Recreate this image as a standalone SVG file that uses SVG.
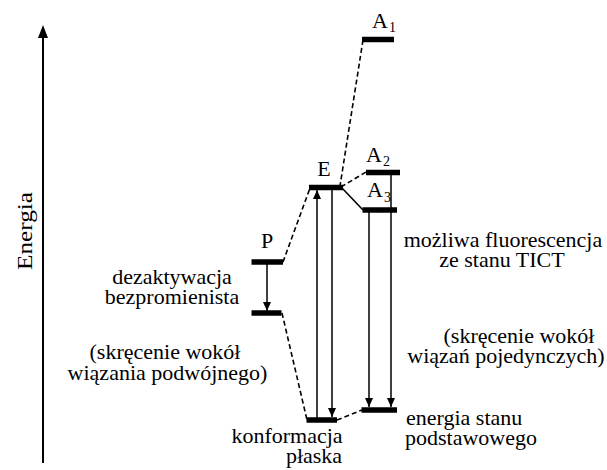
<svg xmlns="http://www.w3.org/2000/svg" width="607" height="470" viewBox="0 0 607 470">
<style>
text{font-family:"Liberation Serif","Times New Roman",serif;fill:#000;font-size:22px}
.c{text-anchor:middle}
.sub{font-size:14px}
.bar{stroke:#000;stroke-width:5.5;fill:none}
.dash{stroke:#000;stroke-width:1.6;stroke-dasharray:5 3;fill:none}
.solid{stroke:#000;stroke-width:1.6;fill:none}
.arr{stroke:#000;stroke-width:1.5;fill:none;marker-end:url(#ah)}
</style>
<defs>
<marker id="ah" markerUnits="userSpaceOnUse" markerWidth="10" markerHeight="8" refX="9" refY="4" orient="auto">
<path d="M0,0 L9,4 L0,8 Z" fill="#000"/>
</marker>
</defs>
<rect width="607" height="470" fill="#fff"/>
<g id="axis">
<line x1="43" y1="463" x2="43" y2="36" stroke="#000" stroke-width="2"/>
<polygon points="43,25 38,38 48,38" fill="#000"/>
<text transform="translate(32,231) rotate(-90)" class="c" font-size="27" textLength="78" lengthAdjust="spacingAndGlyphs">Energia</text>
</g>
<g id="connectors">
<line class="dash" x1="363" y1="40" x2="340" y2="186"/>
<line class="dash" x1="341" y1="187" x2="366" y2="172"/>
<line class="solid" x1="342" y1="188" x2="363" y2="210"/>
<line class="dash" x1="283" y1="262" x2="310" y2="188"/>
<line class="dash" x1="282" y1="313" x2="307" y2="420"/>
<line class="dash" x1="337" y1="420" x2="362" y2="410"/>
<line class="arr" x1="317" y1="420" x2="317" y2="190"/>
<line class="arr" x1="332" y1="188" x2="332" y2="417"/>
<line class="arr" x1="369" y1="210" x2="369" y2="407"/>
<line class="arr" x1="391" y1="172" x2="391" y2="407"/>
<line class="arr" x1="267" y1="262" x2="267" y2="311"/>
</g>
<g id="A1">
<line class="bar" x1="362" y1="39.5" x2="394" y2="39.5"/>
<text x="372" y="28">A</text><text class="sub" x="389" y="32">1</text>
</g>
<g id="A2">
<line class="bar" x1="366" y1="172.5" x2="400" y2="172.5"/>
<text x="366" y="162">A</text><text class="sub" x="383" y="166">2</text>
</g>
<g id="A3">
<line class="bar" x1="362.5" y1="210" x2="397" y2="210"/>
<text x="367" y="197">A</text><text class="sub" x="384" y="202">3</text>
</g>
<g id="E">
<line class="bar" x1="309" y1="187.5" x2="343" y2="187.5"/>
<text class="c" x="324" y="176">E</text>
</g>
<g id="P">
<line class="bar" x1="251.5" y1="262" x2="283" y2="262"/>
<text class="c" x="267" y="248">P</text>
</g>
<g id="P2">
<line class="bar" x1="251.5" y1="313" x2="281.5" y2="313"/>
</g>
<g id="plaska">
<line class="bar" x1="306.5" y1="420" x2="337" y2="420"/>
<text class="c" x="287" y="443">konformacja</text>
<text class="c" x="314" y="463">płaska</text>
</g>
<g id="ground">
<line class="bar" x1="361.5" y1="410" x2="397" y2="410"/>
<text x="406" y="425">energia stanu</text>
<text x="405" y="445">podstawowego</text>
</g>
<g id="labels">
<text class="c" x="172" y="284">dezaktywacja</text>
<text class="c" x="172" y="304">bezpromienista</text>
<text class="c" x="165" y="359">(skręcenie wokół</text>
<text class="c" x="167.5" y="380">wiązania podwójnego)</text>
<text class="c" x="503" y="247">możliwa fluorescencja</text>
<text class="c" x="502" y="267">ze stanu TICT</text>
<text class="c" x="519" y="343">(skręcenie wokół</text>
<text class="c" x="506" y="363">wiązań pojedynczych)</text>
</g>
</svg>
